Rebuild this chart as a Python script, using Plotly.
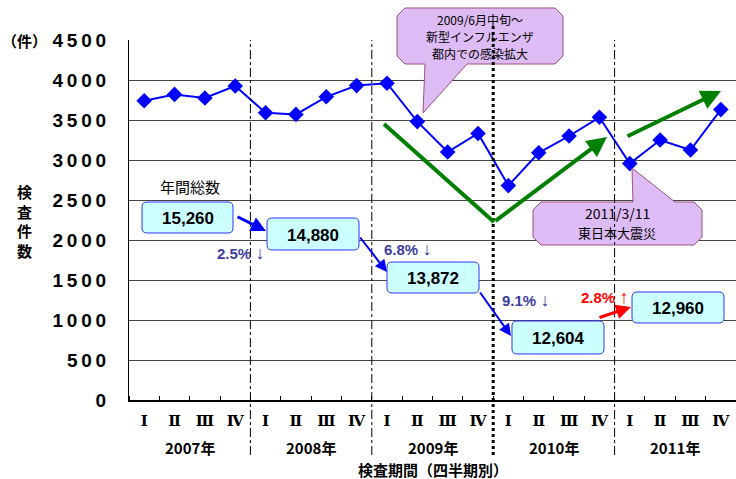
import plotly.graph_objects as go

# ---------------- data ----------------
quarter_labels = ["Ⅰ", "Ⅱ", "Ⅲ", "Ⅳ"] * 5
year_labels = ["2007年", "2008年", "2009年", "2010年", "2011年"]
counts = [3740, 3820, 3775, 3925,
          3590, 3570, 3790, 3930,
          3960, 3480, 3100, 3332,
          2680, 3090, 3300, 3534,
          2955, 3250, 3125, 3630]
annual_totals = ["15,260", "14,880", "13,872", "12,604", "12,960"]
change_values = ["2.5%", "6.8%", "9.1%", "2.8%"]
change_arrows = ["↓", "↓", "↓", "↑"]
ytick_vals = [0, 500, 1000, 1500, 2000, 2500, 3000, 3500, 4000, 4500]
ytick_text = ["\u2009".join(str(v)) for v in ytick_vals]
callout1_lines = ["2009/6月中旬～", "新型インフルエンザ", "都内での感染拡大"]
callout2_lines = ["2011/3/11", "東日本大震災"]

# ---------------- layout geometry ----------------
W, H = 736, 479
L, R, T, B = 129, 0, 40, 79
PW = W - L - R
PH = H - T - B
JP = "Noto Sans CJK JP"


def px(x):
    return (x - L) / PW


def py(y):
    return (H - B - y) / PH


def poly(points):
    return "M " + " L ".join(f"{px(x):.5f},{py(y):.5f}" for x, y in points) + " Z"


def rrect(x0, y0, x1, y1, r=4):
    P = lambda x, y: f"{px(x):.5f},{py(y):.5f}"
    return (f"M {P(x0+r,y0)} L {P(x1-r,y0)} Q {P(x1,y0)} {P(x1,y0+r)} "
            f"L {P(x1,y1-r)} Q {P(x1,y1)} {P(x1-r,y1)} L {P(x0+r,y1)} "
            f"Q {P(x0,y1)} {P(x0,y1-r)} L {P(x0,y0+r)} Q {P(x0,y0)} {P(x0+r,y0)} Z")


fig = go.Figure()
fig.add_trace(go.Scatter(
    x=list(range(len(counts))), y=counts, mode="lines+markers",
    line=dict(color="#0000FF", width=2),
    marker=dict(symbol="diamond", size=12, color="#0000FF"),
    showlegend=False, hoverinfo="skip"))

shapes = []
annotations = []


def text(x, y, t, size, color="black", family=JP):
    annotations.append(dict(xref="paper", yref="paper", x=px(x), y=py(y), text=t,
                            showarrow=False, xanchor="center", yanchor="middle",
                            font=dict(family=family, size=size, color=color)))


# callout 1
shapes.append(dict(type="path", xref="paper", yref="paper",
                   path=poly([(405, 8), (555, 8), (563, 16), (563, 56), (555, 64),
                              (467, 64), (423, 113), (425, 64), (405, 64),
                              (397, 56), (397, 16)]),
                   fillcolor="#DDBBF5", line=dict(color="#A0507F", width=1),
                   layer="above"))
# callout 2
shapes.append(dict(type="path", xref="paper", yref="paper",
                   path=poly([(541, 202), (633, 202), (632, 168), (675, 202), (694, 202),
                              (702, 210), (702, 237), (694, 245), (541, 245),
                              (533, 237), (533, 210)]),
                   fillcolor="#DDBBF5", line=dict(color="#A0507F", width=1),
                   layer="above"))

# year separator lines
for b, thick in [(3.5, False), (7.5, False), (11.5, True), (15.5, False)]:
    xp = (b + 0.5) / len(counts)
    shapes.append(dict(type="line", xref="paper", yref="paper",
                       x0=xp, x1=xp, y0=py(455), y1=py(26) if thick else 1,
                       line=dict(color="black", width=3 if thick else 1,
                                 dash="dot" if thick else "dashdot"),
                       layer="above"))

for i, t in enumerate(callout1_lines):
    text(480, 19.5 + 17 * i, t, 12)
for i, t in enumerate(callout2_lines):
    text(617, 213 + 19 * i, t, 14 if i == 0 else 13)

# green arrows
shapes.append(dict(type="line", xref="paper", yref="paper",
                   x0=px(384), y0=py(124), x1=px(494), y1=py(222),
                   line=dict(color="#008000", width=4), layer="above"))


def arrow(x0, y0, x1, y1, color, width, head=2, size=1.0):
    annotations.append(dict(xref="paper", yref="paper", x=px(x1), y=py(y1),
                            ax=x0 - x1, ay=y0 - y1, axref="pixel", ayref="pixel",
                            showarrow=True, arrowhead=head, arrowsize=size,
                            arrowwidth=width, arrowcolor=color, text="", standoff=0))


arrow(494, 222, 607, 137, "#008000", 4, 2, 1.0)
arrow(626, 137, 721, 91, "#008000", 4, 2, 1.0)

# annual total boxes
box_rects = [(142, 202, 233, 233), (267, 218, 359, 250), (387, 262, 479, 293),
             (512, 321, 604, 354), (632, 292, 724, 323)]
for (x0, y0, x1, y1), txt in zip(box_rects, annual_totals):
    shapes.append(dict(type="path", xref="paper", yref="paper", path=rrect(x0, y0, x1, y1, 5),
                       fillcolor="#CCFFFF", line=dict(color="#3333FF", width=1), layer="above"))
    text((x0 + x1) / 2, (y0 + y1) / 2 + 1, f"<b>{txt}</b>", 17, family="Liberation Sans")

text(190, 186, "年間総数", 15)

# change arrows
arrow(236, 216, 266, 231, "#0000FF", 3, 2, 1.0)
arrow(359, 236, 387, 272, "#0000FF", 2, 2, 1.2)
arrow(479, 291, 511, 336, "#0000FF", 2, 2, 1.2)
arrow(598, 318, 631, 307, "#FF0000", 3, 2, 1.0)

change_pos = [(240, 253), (407, 249), (525, 300), (604, 297)]
change_col = ["#3C3C9A", "#3C3C9A", "#3C3C9A", "#FF0000"]
for (x, y), v, a, c in zip(change_pos, change_values, change_arrows, change_col):
    text(x, y, f"<b>{v}</b> <span style='font-size:18px'><b>{a}</b></span>", 15, c, "Liberation Sans")

# year labels / axis titles
for i, yl in enumerate(year_labels):
    text(L + (4 * i + 2) / 20 * PW, 447, f"<b>{yl}</b>", 15)
text(433, 469, "<b>検査期間（四半期別）</b>", 15)
text(25, 40, "<b>（件）</b>", 15)
text(25, 221, "<b>検<br>査<br>件<br>数</b>", 15)

fig.update_layout(
    width=W, height=H, margin=dict(l=L, r=R, t=T, b=B),
    paper_bgcolor="white", plot_bgcolor="white",
    shapes=shapes, annotations=annotations,
    xaxis=dict(range=[-0.5, 19.5], tickvals=list(range(20)), ticktext=quarter_labels,
               showgrid=False, zeroline=False, showline=True, linecolor="black", linewidth=2,
               ticks="", ticklabelstandoff=6,
               minor=dict(ticks="inside", tick0=-0.5, dtick=1, ticklen=4, tickcolor="black", showgrid=False),
               tickfont=dict(family="DejaVu Serif", size=15, color="black", weight="bold")),
    yaxis=dict(range=[0, 4500], tickvals=ytick_vals, ticktext=ytick_text,
               showgrid=True, gridcolor="#444444", gridwidth=1, zeroline=False,
               showline=True, linecolor="black", linewidth=1, ticks="",
               ticklabelstandoff=18,
               tickfont=dict(family="Liberation Sans", size=19, color="black", weight="bold")),
)

fig.write_html("out.html", config={"displayModeBar": False},
               post_script="document.body.style.margin='0px';")
